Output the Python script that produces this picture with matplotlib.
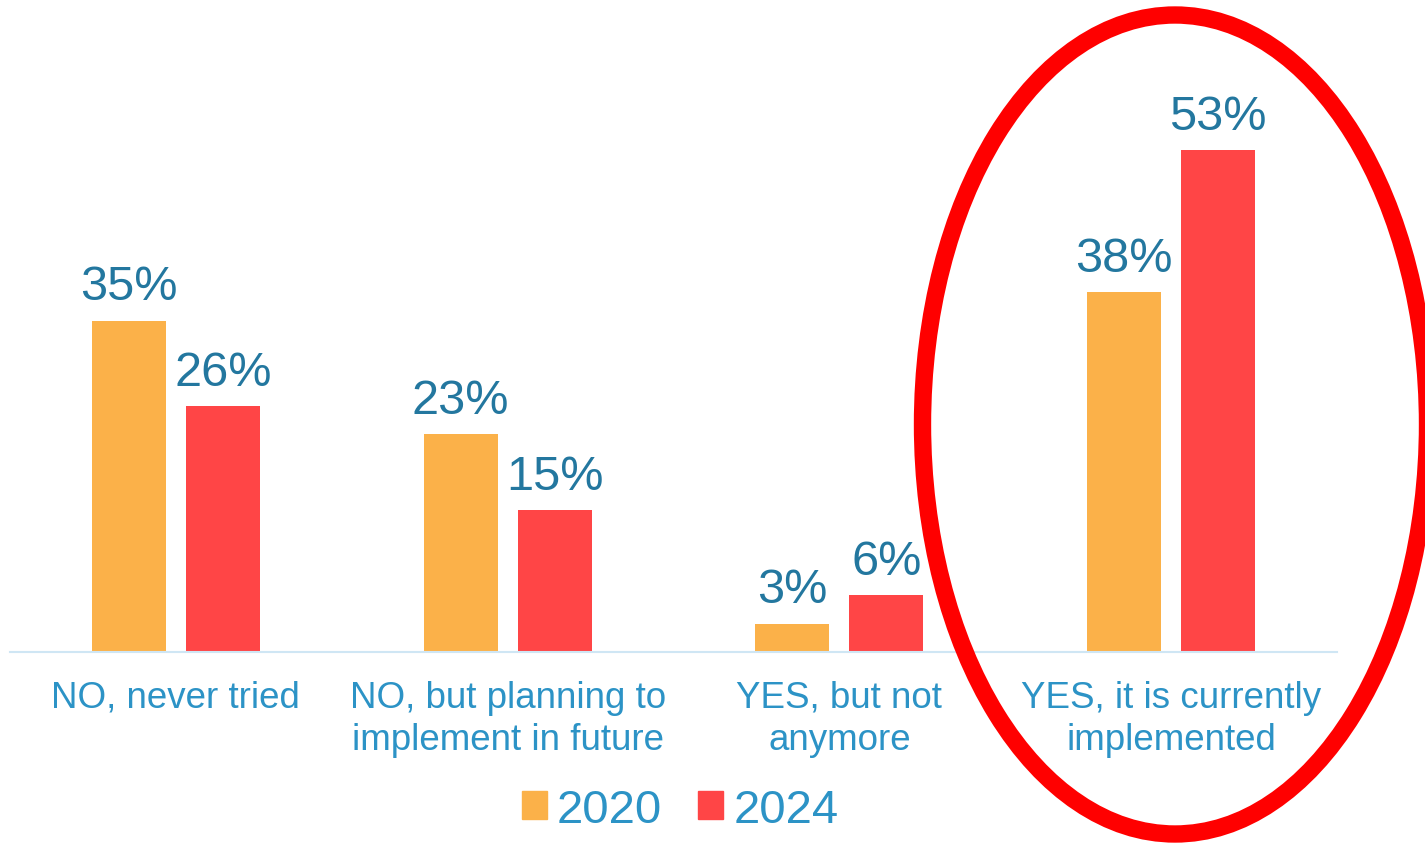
import matplotlib.pyplot as plt
from matplotlib.patches import Ellipse, Patch
import numpy as np

plt.rcParams['font.family'] = ['Liberation Sans', 'DejaVu Sans']

categories = ['NO, never tried', 'NO, but planning to\nimplement in future',
              'YES, but not\nanymore', 'YES, it is currently\nimplemented']
vals_2020 = [35, 23, 3, 38]
vals_2024 = [26, 15, 6, 53]

c2020 = '#FBB149'
c2024 = '#FF4546'
val_blue = '#23779F'
cat_blue = '#2C93C6'

fig = plt.figure(figsize=(14.25, 8.45), dpi=100)
ax = fig.add_axes([10 / 1425, 192 / 845, 1327 / 1425, 653 / 845])

x = np.arange(len(categories))
w = 0.223
off = 0.1416
b1 = ax.bar(x - off, vals_2020, w, color=c2020, label='2020')
b2 = ax.bar(x + off, vals_2024, w, color=c2024, label='2024')

for bars in (b1, b2):
    ax.bar_label(bars, labels=[f'{v}%' for v in bars.datavalues],
                 padding=8, fontsize=35, color=val_blue)

ax.set_xlim(-0.5, 3.5)
ax.set_ylim(0, 68.95)
ax.set_xticks(x)
ax.set_xticklabels(categories, fontsize=26.5, color=cat_blue, linespacing=1.27)
ax.tick_params(axis='x', length=0, pad=20)
ax.set_yticks([])
for s in ['top', 'left', 'right']:
    ax.spines[s].set_visible(False)
ax.spines['bottom'].set_color('#CFE6F4')
ax.spines['bottom'].set_linewidth(1.5)

handles = [Patch(color=c2020), Patch(color=c2024)]
fig.legend(handles, ['2020', '2024'], loc='center',
           bbox_to_anchor=(680 / 1425, 1 - 811 / 845), ncol=2, frameon=False,
           fontsize=34, labelcolor=cat_blue, handlelength=0.53, handleheight=0.53,
           handletextpad=0.22, columnspacing=0.75)

# red circle round the last group
ring = Ellipse((1175 / 1425, 1 - 425.5 / 845), 505 / 1425, 819 / 845,
               transform=fig.transFigure, fill=False, ec='#FF0000', lw=12.5)
fig.add_artist(ring)

fig.savefig('out.png', dpi=100)
